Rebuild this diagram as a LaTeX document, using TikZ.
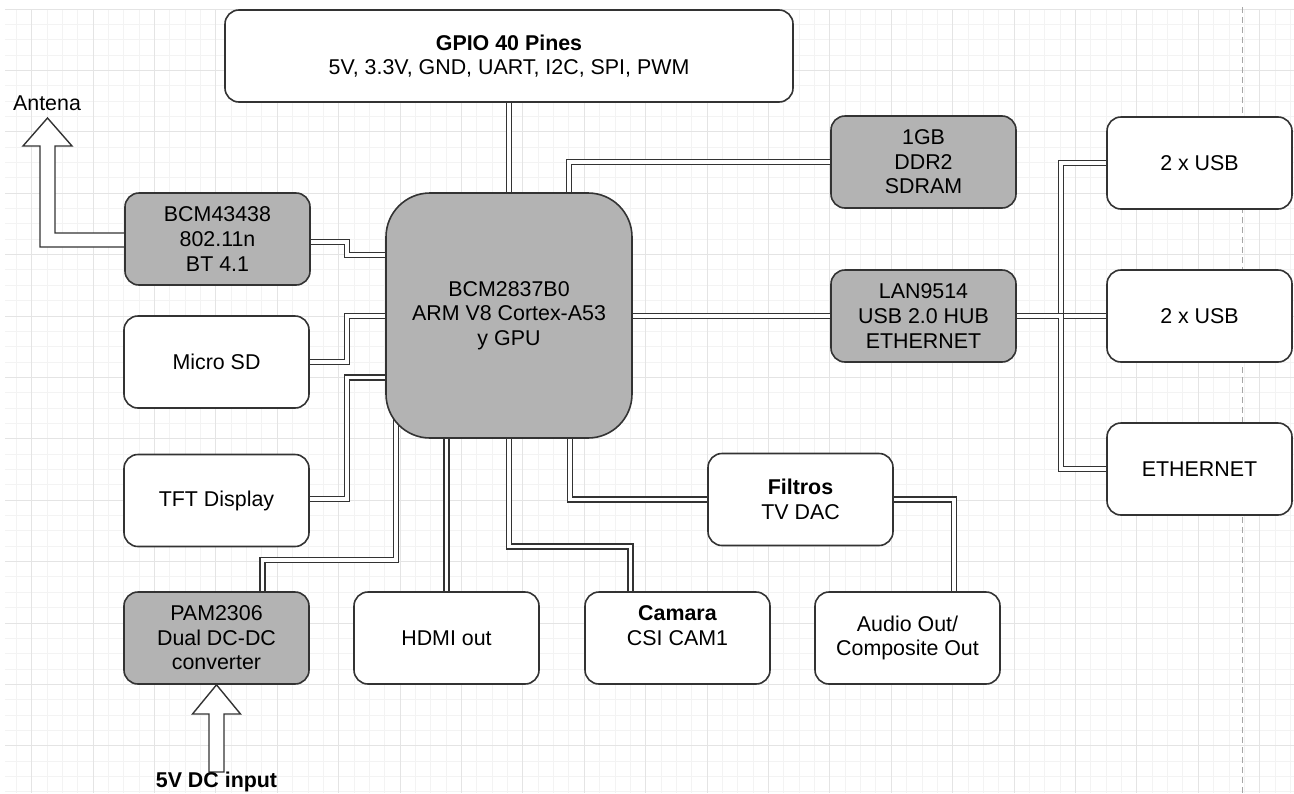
\documentclass[tikz,border=0pt]{standalone}
\usepackage{fontspec}
\setmainfont{Liberation Sans}
\usepackage{tikz}
\usepackage{xcolor}
\definecolor{chipgrey}{HTML}{B3B3B3}
\definecolor{linegrey}{HTML}{333333}
\definecolor{gridlight}{HTML}{F3F3F3}
\definecolor{griddark}{HTML}{E4E4E4}
\definecolor{guidegrey}{HTML}{A6A6A6}
\newcommand{\boxfont}{\fontsize{10.7}{12.3}\selectfont}
\pgfdeclarelayer{gridlayer}
\pgfdeclarelayer{wires}
\pgfsetlayers{gridlayer,wires,main}

\begin{document}
\begin{tikzpicture}[
        x=0.5pt, y=-0.5pt,
        block/.style={rectangle, draw=linegrey, line width=0.8pt, fill=white,
          minimum width=92.5pt, minimum height=46pt, rounded corners=7pt,
          align=center, inner sep=2pt, font=\boxfont},
        chip/.style={block, fill=chipgrey},
        link/.style={draw=linegrey, line width=0.7pt, double=white,
          double distance=1.9pt},
        hollow/.style={draw=linegrey, line width=0.7pt, fill=white},
        gridminor/.style={draw=gridlight, line width=0.5pt},
        gridmajor/.style={draw=griddark, line width=0.5pt},
      ]
        \useasboundingbox (0,0) rectangle (1294,793);
        \clip (0,0) rectangle (1294,793);

        % background grid and guide
        \begin{pgfonlayer}{gridlayer}
          \foreach \k in {0,...,83}
            \draw[gridminor] ({16.35+15.35*\k},9) -- ++(0,784);
          \foreach \k in {0,...,51}
            \draw[gridminor] (5,{9+15.35*\k}) -- (1294,{9+15.35*\k});
          \foreach \k in {0,...,20}
            \draw[gridmajor] ({31.7+61.4*\k},9) -- ++(0,784);
          \foreach \k in {0,...,12}
            \draw[gridmajor] (5,{9+61.4*\k}) -- (1294,{9+61.4*\k});
          \draw[guidegrey, line width=0.5pt, dash pattern=on 3pt off 2pt]
            (1242,7) -- (1242,793);
        \end{pgfonlayer}

        \node[block, minimum width=284pt, font=\boxfont] (gpio) at (509,56)
          {\textbf{GPIO 40 Pines}\\5V, 3.3V, GND, UART, I2C, SPI, PWM};
        \node[chip, minimum width=123pt, minimum height=122.5pt,
          rounded corners=22pt] (bcm) at (509,315.5)
          {BCM2837B0\\ARM V8 Cortex-A53\\y GPU};
        \node[chip] (wifi) at (217.5,239) {BCM43438\\802.11n\\BT 4.1};
        \node[block] (sd) at (216.5,362) {Micro SD};
        \node[block] (tft) at (216.5,500.5) {TFT Display};
        \node[chip] (pam) at (216.5,638) {PAM2306\\Dual DC-DC\\converter};
        \node[block] (hdmi) at (446.5,638) {HDMI out};
        \node[block] (cam) at (677.5,638) {\textbf{Camara}\\CSI CAM1\\~};
        \node[block] (audio) at (907.5,638) {Audio Out/\\Composite Out};
        \node[block] (filt) at (800.5,499.5) {\textbf{Filtros}\\TV DAC};
        \node[chip] (ddr) at (923.5,162) {1GB\\DDR2\\SDRAM};
        \node[chip] (lan) at (923.5,316) {LAN9514\\USB 2.0 HUB\\ETHERNET};
        \node[block] (usbA) at (1199.5,163) {2 x USB};
        \node[block] (usbB) at (1199.5,316) {2 x USB};
        \node[block] (eth) at (1199.5,469) {ETHERNET};
        \node[font=\boxfont] (ant) at (47,103) {Antena};
        \node[font=\boxfont\bfseries, anchor=base] (vin) at (216.5,787)
          {5V DC input};

        % connections
        \begin{pgfonlayer}{wires}
          \draw[link] (gpio) -- (bcm);
          \draw[link] (wifi.east |- 0,242) -| (347,255) -- (bcm.center |- 0,255);
          \draw[link] (sd.east |- 0,362) -| (347,316) -- (bcm.center |- 0,316);
          \draw[link] (tft.east |- 0,499) -| (347,377.5) -- (bcm.center |- 0,377.5);
          \draw[link] (pam.north -| 262.5,0) |- (396,560) -- (bcm.center -| 396,0);
          \draw[link] (bcm.center -| 569,0) |- (ddr.west);
          \draw[link] (bcm.center |- lan.west) -- (lan.west);
          \draw[link] (lan.east) -- (usbB.west);
          \draw[link] (lan.east) -- ++(44,0) |- (usbA.west);
          \draw[link] (lan.east) -- ++(44,0) |- (eth.west);
          \draw[link] (bcm.center -| hdmi.north) -- (hdmi.north);
          \draw[link] (bcm.center) -- (509,546.5) -| (cam.north -| 630.5,0);
          \draw[link] (bcm.center -| 570,0) |- (filt.west);
          \draw[link] (filt.east) -| (audio.north -| 954,0);
          % hollow arrows
          \draw[hollow] (wifi.west |- 0,233) -- (55,233) -- (55,146) -- (72,146)
            -- (47.5,118) -- (23,146) -- (40,146) -- (40,247) -- (wifi.west |- 0,247);
          \draw[hollow] (pam.south) -- (240.5,714) -- (224,714) -- (224,772)
            -- (209,772) -- (209,714) -- (192.5,714) -- cycle;
        \end{pgfonlayer}
      \end{tikzpicture}
\end{document}
